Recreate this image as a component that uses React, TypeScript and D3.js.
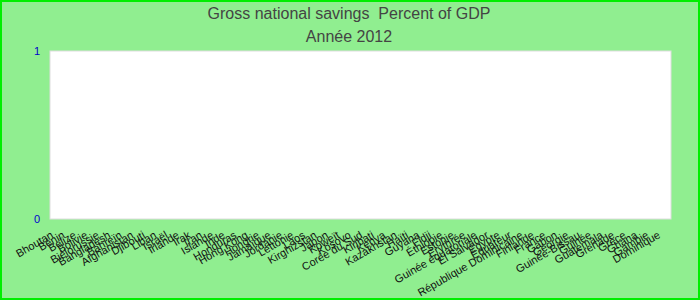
import React from "react";
import * as d3 from "d3";

const countries: string[] = [
  "Bhoutan", "Bénin", "Belize", "Bolivie", "Biélorussie", "Bangladesh", "Bahreïn", "Afghanistan",
  "Djibouti", "Liban", "Israël", "Irlande", "Irak", "Iran", "Islande", "Inde", "Honduras",
  "Hong Kong", "Hongrie", "Jamaïque", "Jordanie", "Lettonie", "Laos", "Kirghizstan", "Japon",
  "Koweït", "Kosovo", "Corée du Sud", "Kiribati", "Kenya", "Kazakhstan", "Haïti", "Guyana",
  "Fidji", "Éthiopie", "Estonie", "Érythrée", "Guinée équatoriale", "El Salvador", "Égypte",
  "Équateur", "République Dominicaine", "Finlande", "France", "Gabon", "Géorgie",
  "Guinée-Bissau", "Guinée", "Guatemala", "Grenade", "Grèce", "Ghana", "Gambie", "Dominique",
];
const values: number[] = countries.map(() => 0);
const yTicks: number[] = [0, 1];
const title = "Gross national savings  Percent of GDP";
const subtitle = "Année 2012";

export default function App() {
  const W = 700, H = 300;
  const plot = { left: 50, right: 671, top: 51, bottom: 219 };
  const x = d3.scalePoint<string>().domain(countries).range([50, 657]);
  const y = d3.scaleLinear().domain([0, 1]).range([plot.bottom, plot.top]);
  const font = "'Liberation Sans', Arial, sans-serif";
  return (
    <svg width={W} height={H} style={{ position: "absolute", left: 0, top: 0 }} fontFamily={font}>
      <rect x={1} y={1} width={W - 2} height={H - 2} fill="#90EE90" stroke="#00ee00" strokeWidth={2} />
      <text x={349} y={19} textAnchor="middle" fontSize={16} fill="#444" style={{ whiteSpace: "pre" }}>{title}</text>
      <text x={349} y={42} textAnchor="middle" fontSize={16} fill="#444">{subtitle}</text>
      <rect x={plot.left} y={plot.top} width={plot.right - plot.left} height={plot.bottom - plot.top}
        fill="#fff" stroke="#dddddd" strokeWidth={1} />
      {yTicks.map((t) => (
        <text key={t} x={40} y={y(t)} dy="0.35em" textAnchor="end" fontSize={11} fill="#0000cc">{t}</text>
      ))}
      {countries.map((c, i) => (
        <rect key={"b" + c} x={(x(c) as number) - 3} width={6} y={y(values[i])}
          height={plot.bottom - y(values[i])} fill="#3366cc" />
      ))}
      {countries.map((c) => (
        <text key={c} transform={`translate(${x(c)},${230}) rotate(-30)`} textAnchor="end"
          dy="0.75em" fontSize={11} fill="#111">{c}</text>
      ))}
    </svg>
  );
}
